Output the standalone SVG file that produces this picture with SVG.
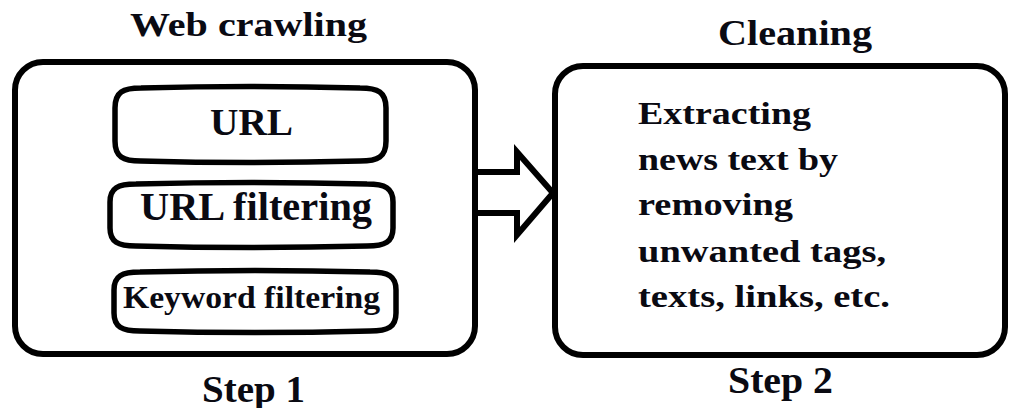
<svg xmlns="http://www.w3.org/2000/svg" width="1012" height="408" viewBox="0 0 1012 408">
  <style>
    .box { fill: #ffffff; stroke: #000000; stroke-width: 6; }
    .pill { fill: #ffffff; stroke: #000000; stroke-width: 5.5; }
    .lbl { font-family: "Liberation Serif", "Times New Roman", Times, serif; font-weight: bold; fill: #0a0a12; }
    .conn { fill: #ffffff; stroke: #000000; stroke-width: 6; stroke-linejoin: miter; }
  </style>
  <rect x="0" y="0" width="1012" height="408" fill="#ffffff"/>

  <!-- Step 1: web crawling -->
  <g id="step1">
    <text class="lbl" font-family="Liberation Serif, serif" x="130" y="36" font-size="34" textLength="237" lengthAdjust="spacingAndGlyphs">Web crawling</text>
    <rect class="box" x="15" y="62" width="460" height="292" rx="28" ry="28"/>
    <text class="lbl" font-family="Liberation Serif, serif" x="202" y="402" font-size="37" textLength="103" lengthAdjust="spacingAndGlyphs">Step 1</text>
  </g>

  <!-- inner stages: rounded pills with slightly arched top and bottom -->
  <g id="url">
    <path class="pill" d="M 115 108 C 115 92 123 88 141 88 Q 250.5 85 360 88 C 378 88 386 92 386 108 L 386 141 C 386 157 378 161 360 161 Q 250.5 164 141 161 C 123 161 115 157 115 141 Z"/>
    <text class="lbl" font-family="Liberation Serif, serif" x="210" y="135" font-size="38" textLength="83" lengthAdjust="spacingAndGlyphs">URL</text>
  </g>

  <g id="url-filtering">
    <path class="pill" d="M 110 202 C 110 188 118 184 136 184 Q 251.5 181 367 184 C 385 184 393 188 393 202 L 393 228 C 393 242 385 246 367 246 Q 251.5 249 136 246 C 118 246 110 242 110 228 Z"/>
    <text class="lbl" font-family="Liberation Serif, serif" x="140" y="220" font-size="39" textLength="232" lengthAdjust="spacingAndGlyphs">URL filtering</text>
  </g>

  <g id="keyword-filtering">
    <path class="pill" d="M 114 290 C 114 276 122 272 140 272 Q 255 269 370 272 C 388 272 396 276 396 290 L 396 313 C 396 327 388 331 370 331 Q 255 334 140 331 C 122 331 114 327 114 313 Z"/>
    <text class="lbl" font-family="Liberation Serif, serif" x="123" y="308" font-size="31" textLength="257" lengthAdjust="spacingAndGlyphs">Keyword filtering</text>
  </g>

  <!-- Step 2: cleaning -->
  <g id="step2">
    <text class="lbl" font-family="Liberation Serif, serif" x="718" y="45" font-size="35" textLength="154" lengthAdjust="spacingAndGlyphs">Cleaning</text>
    <rect class="box" x="555" y="66" width="450" height="289" rx="28" ry="28"/>
    <text class="lbl" font-family="Liberation Serif, serif" x="638" y="124" font-size="32" textLength="173" lengthAdjust="spacingAndGlyphs">Extracting</text>
    <text class="lbl" font-family="Liberation Serif, serif" x="638" y="170" font-size="32" textLength="200" lengthAdjust="spacingAndGlyphs">news text by</text>
    <text class="lbl" font-family="Liberation Serif, serif" x="638" y="215" font-size="32" textLength="155" lengthAdjust="spacingAndGlyphs">removing</text>
    <text class="lbl" font-family="Liberation Serif, serif" x="638" y="262" font-size="32" textLength="248" lengthAdjust="spacingAndGlyphs">unwanted tags,</text>
    <text class="lbl" font-family="Liberation Serif, serif" x="638" y="307" font-size="32" textLength="252" lengthAdjust="spacingAndGlyphs">texts, links, etc.</text>
    <text class="lbl" font-family="Liberation Serif, serif" x="728" y="393" font-size="37" textLength="105" lengthAdjust="spacingAndGlyphs">Step 2</text>
  </g>

  <!-- block arrow from step 1 to step 2 -->
  <g id="connectors">
    <path class="conn" d="M 478 172 L 517 172 L 517 152 L 553 193 L 517 235 L 517 213 L 478 213"/>
  </g>
</svg>
